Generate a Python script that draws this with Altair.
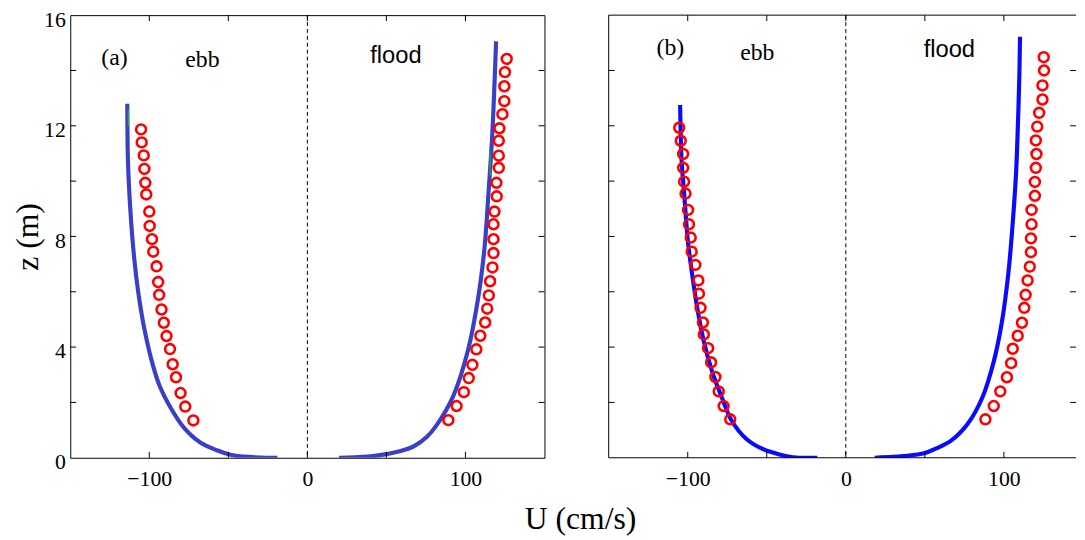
import altair as alt
import pandas as pd

# ---------------- data ----------------
# Panel (a)
a_ebb_model_u = [-113.9, -113.5, -112.0, -109.5, -107.0, -103.6, -98.9, -93.75, -86.4, -78.1, -67.7, -57.25, -48.0, -40.0, -30.0, -19.0]
a_ebb_model_z = [12.8, 10.77, 8.98, 7.19, 5.99, 4.80, 3.60, 2.64, 1.80, 1.09, 0.55, 0.27, 0.10, 0.04, 0.01, 0.0]
a_flood_model_u = [20.0, 30.0, 40.0, 50.0, 59.6, 67.5, 75.5, 81.8, 92.0, 101.5, 108.0, 112.0, 115.0, 117.0, 119.4]
a_flood_model_z = [0.0, 0.02, 0.05, 0.13, 0.25, 0.42, 0.75, 1.18, 2.19, 3.86, 5.76, 7.55, 9.93, 11.71, 15.05]
a_ebb_obs_u = [-105.2, -104.8, -103.5, -103.1, -102.5, -101.9, -100.0, -99.75, -98.3, -97.5, -95.4,
               -94.4, -93.75, -92.25, -90.8, -89.1, -86.9, -85.2, -83.1, -80.2, -77.25, -72.1]
a_ebb_obs_z = [11.87, 11.40, 10.93, 10.44, 9.94, 9.52, 8.90, 8.38, 7.90, 7.45, 6.92,
               6.35, 5.89, 5.36, 4.88, 4.40, 3.93, 3.38, 2.91, 2.34, 1.85, 1.35]
a_flood_obs_u = [126.1, 125.0, 124.6, 124.6, 123.4, 121.5, 121.1, 121.1, 121.1, 119.6, 119.8, 118.4, 117.75, 117.75,
                 117.75, 117.1, 115.6, 114.8, 113.75, 112.5, 109.4, 106.9, 104.4, 102.1, 99.0, 94.4, 89.2]
a_flood_obs_z = [14.42, 13.94, 13.43, 12.89, 12.42, 11.91, 11.46, 10.92, 10.48, 9.94, 9.45, 8.90, 8.44, 7.90,
                 7.40, 6.88, 6.38, 5.87, 5.39, 4.89, 4.41, 3.92, 3.36, 2.88, 2.37, 1.87, 1.36]
a_green_u = [-113.2, -113.2, None, 115.6, 115.6]
a_green_z = [12.6, 12.0, None, 11.1, 10.2]

# Panel (b)
b_ebb_model_u = [-104.8, -103.9, -102.3, -99.8, -97.1, -93.9, -89.8, -84.6, -78.3, -72.1, -62.7, -52.3, -42.0, -33.5, -18.0]
b_ebb_model_z = [12.75, 10.77, 9.58, 7.78, 6.59, 5.39, 4.20, 3.12, 2.16, 1.33, 0.67, 0.31, 0.12, 0.02, 0.0]
b_flood_model_u = [18.3, 30.0, 36.3, 49.6, 56.1, 66.4, 76.9, 86.25, 93.6, 98.75, 102.9, 105.6, 107.7, 108.9, 109.8, 110.2]
b_flood_model_z = [0.0, 0.03, 0.06, 0.16, 0.31, 0.61, 1.21, 2.16, 3.48, 4.91, 6.71, 8.50, 10.30, 12.09, 13.88, 15.22]
b_ebb_obs_u = [-105.4, -104.4, -102.9, -102.9, -102.3, -101.4, -99.8, -99.2, -98.1, -97.5, -95.2,
               -93.3, -92.9, -91.9, -90.4, -89.8, -87.1, -85.2, -82.5, -80.4, -77.3, -73.1]
b_ebb_obs_z = [11.93, 11.46, 10.98, 10.48, 9.98, 9.55, 8.96, 8.44, 7.96, 7.45, 6.97,
               6.41, 5.93, 5.42, 4.89, 4.46, 3.96, 3.45, 2.92, 2.40, 1.87, 1.39]
b_flood_obs_u = [125.2, 125.4, 124.4, 124.4, 122.3, 121.1, 120.2, 120.6, 120.2, 119.6, 119.6, 117.5, 117.5, 117.1,
                 117.1, 116.4, 115.0, 113.75, 112.9, 111.4, 108.75, 105.6, 104.6, 101.9, 97.7, 93.6, 88.3]
b_flood_obs_z = [14.48, 14.00, 13.46, 12.95, 12.47, 11.97, 11.47, 10.98, 10.48, 9.97, 9.47, 8.96, 8.44, 7.93,
                 7.43, 6.91, 6.41, 5.89, 5.42, 4.88, 4.41, 3.94, 3.42, 2.91, 2.40, 1.87, 1.39]

# axis ticks / labels
x_label_values = [-100, 0, 100]
x_tick_values = [-100, -50, 0, 50, 100]
y_label_values = [0, 4, 8, 12, 16]
y_tick_values = [2, 4, 6, 8, 10, 12, 14]

# annotations
a_ann_serif = {"u": [-122.0, -66.4], "z": [14.46, 14.36], "t": ["(a)", "ebb"]}
a_ann_sans = {"u": [56.0], "z": [14.53], "t": ["flood"]}
b_ann_serif = {"u": [-111.0, -56.0], "z": [14.8, 14.62], "t": ["(b)", "ebb"]}
b_ann_sans = {"u": [65.5], "z": [14.75], "t": ["flood"]}

SERIF = "Liberation Serif"
SANS = "Liberation Sans"
H = 448


def df_line(segs):
    rows = []
    for g, (us, zs) in enumerate(segs):
        for i, (u, z) in enumerate(zip(us, zs)):
            rows.append({"u": u, "z": z, "g": g, "i": i})
    return pd.DataFrame(rows)


def panel(ebb_u, ebb_z, fl_u, fl_z, eo_u, eo_z, fo_u, fo_z, line_color, ann_serif, ann_sans,
          width, xdom, first, green=None):
    xs = alt.Scale(domain=xdom, nice=False, zero=False)
    ys = alt.Scale(domain=[0, 16], nice=False, zero=False)

    if first:
        x_axis = alt.Axis(values=x_label_values, ticks=False, domain=False, grid=False,
                          labelFont=SERIF, labelFontSize=22, labelPadding=11, labelColor="black",
                          title="U (cm/s)", titleFont=SERIF, titleFontSize=32, titleFontWeight="normal",
                          titleColor="black", titleX=516, titleY=62, titleAlign="center",
                          titleBaseline="middle")
        y_axis = alt.Axis(values=y_label_values, ticks=False, tickSize=0, domain=False, grid=False,
                          labelFont=SERIF, labelFontSize=22, labelPadding=5, labelOffset=4,
                          labelColor="black",
                          title="z (m)", titleFont=SERIF, titleFontSize=32, titleFontWeight="normal",
                          titleColor="black", titleX=-43, titleY=224, titleAlign="center",
                          titleBaseline="middle")
    else:
        x_axis = alt.Axis(values=x_label_values, ticks=False, domain=False, grid=False,
                          labelFont=SERIF, labelFontSize=22, labelPadding=11, labelColor="black",
                          title=None)
        y_axis = None

    def X():
        return alt.X("u:Q", scale=xs, axis=x_axis)

    def Y():
        return alt.Y("z:Q", scale=ys, axis=y_axis)

    line_df = df_line([(ebb_u, ebb_z), (fl_u, fl_z)])
    lines = alt.Chart(line_df).mark_line(color=line_color, strokeWidth=4.2, interpolate="catmull-rom",
                                         clip=True).encode(
        x=X(), y=Y(), detail="g:N", order="i:Q")
    layers = [lines]

    if green is not None:
        gdf = df_line([(green[0][:2], green[1][:2]), (green[0][3:], green[1][3:])])
        layers.append(alt.Chart(gdf).mark_line(color="#22a838", strokeWidth=1.5).encode(
            x=X(), y=Y(), detail="g:N", order="i:Q"))

    obs_df = pd.DataFrame({"u": list(eo_u) + list(fo_u), "z": list(eo_z) + list(fo_z)})
    layers.append(alt.Chart(obs_df).mark_point(shape="circle", filled=False, color="#ff0000",
                                               strokeWidth=2.6, size=100, opacity=1).encode(
        x=X(), y=Y()))

    # dashed zero line
    layers.append(alt.Chart(pd.DataFrame({"u": [0]})).mark_rule(color="black", strokeWidth=1,
                                                                strokeDash=[4, 3]).encode(
        x=X(), y=alt.value(0), y2=alt.value(H)))

    # inward ticks
    xt = pd.DataFrame({"u": x_tick_values})
    yt = pd.DataFrame({"z": y_tick_values})
    layers.append(alt.Chart(xt).mark_rule(color="black", strokeWidth=1).encode(
        x=X(), y=alt.value(0), y2=alt.value(6)))
    layers.append(alt.Chart(xt).mark_rule(color="black", strokeWidth=1).encode(
        x=X(), y=alt.value(H - 6), y2=alt.value(H)))
    layers.append(alt.Chart(yt).mark_rule(color="black", strokeWidth=1).encode(
        y=Y(), x=alt.value(0), x2=alt.value(6)))
    layers.append(alt.Chart(yt).mark_rule(color="black", strokeWidth=1).encode(
        y=Y(), x=alt.value(width - 6), x2=alt.value(width)))

    if not first:
        # frame without right edge (it lies outside the picture in the reference)
        one = pd.DataFrame({"k": [0]})
        layers.append(alt.Chart(one).mark_rule(color="black", strokeWidth=1).encode(
            x=alt.value(0), x2=alt.value(width), y=alt.value(0)))
        layers.append(alt.Chart(one).mark_rule(color="black", strokeWidth=1).encode(
            x=alt.value(0), x2=alt.value(width), y=alt.value(H)))
        layers.append(alt.Chart(one).mark_rule(color="black", strokeWidth=1).encode(
            x=alt.value(0), y=alt.value(0), y2=alt.value(H)))

    layers.append(alt.Chart(pd.DataFrame(ann_serif)).mark_text(font=SERIF, fontSize=24, color="black",
                                                               baseline="middle", align="center").encode(
        x=X(), y=Y(), text="t:N"))
    layers.append(alt.Chart(pd.DataFrame(ann_sans)).mark_text(font=SANS, fontSize=24, color="black",
                                                              baseline="middle", align="center").encode(
        x=X(), y=Y(), text="t:N"))

    ch = alt.layer(*layers).properties(width=width, height=H)
    if first:
        ch = ch.properties(view=alt.ViewBackground(stroke="black", strokeWidth=1))
    else:
        ch = ch.properties(view=alt.ViewBackground(stroke="transparent"))
    return ch


pa = panel(a_ebb_model_u, a_ebb_model_z, a_flood_model_u, a_flood_model_z,
           a_ebb_obs_u, a_ebb_obs_z, a_flood_obs_u, a_flood_obs_z,
           "#3a3fc8", a_ann_serif, a_ann_sans, 480, [-150, 150], True,
           green=(a_green_u, a_green_z))
pb = panel(b_ebb_model_u, b_ebb_model_z, b_flood_model_u, b_flood_model_z,
           b_ebb_obs_u, b_ebb_obs_z, b_flood_obs_u, b_flood_obs_z,
           "#0a0aff", b_ann_serif, b_ann_sans, 473, [-150, 145.625], False)

chart = alt.hconcat(pa, pb, spacing=65, bounds="flush").properties(
    padding={"left": 3, "top": -4, "right": 0, "bottom": 0}
).configure_view(stroke="black", strokeWidth=1).configure(background="white")

chart.save("out.html", embed_options={"renderer": "svg", "actions": False})
